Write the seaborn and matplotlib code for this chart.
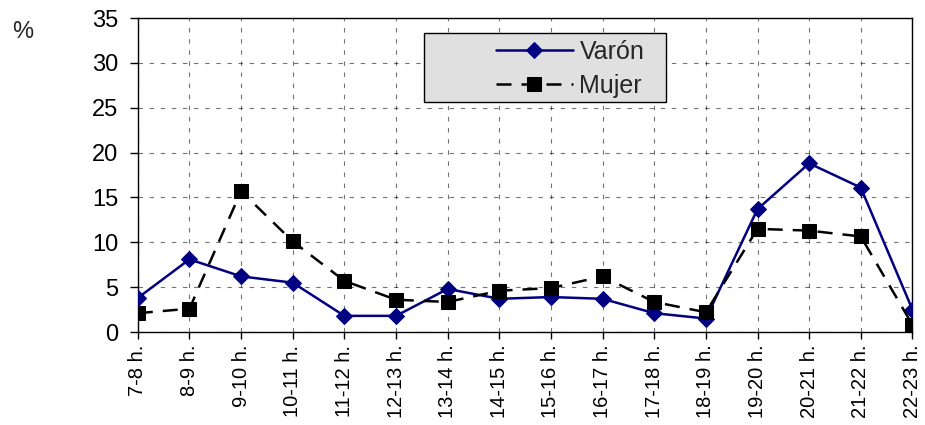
import seaborn as sns
import matplotlib.pyplot as plt
from matplotlib.patches import Rectangle

# Datos
horas = ['7-8 h.', '8-9 h.', '9-10 h.', '10-11 h.', '11-12 h.', '12-13 h.', '13-14 h.',
         '14-15 h.', '15-16 h.', '16-17 h.', '17-18 h.', '18-19 h.', '19-20 h.',
         '20-21 h.', '21-22 h.', '22-23 h.']
varon = [3.8, 8.1, 6.2, 5.5, 1.8, 1.8, 4.8, 3.7, 3.9, 3.7, 2.1, 1.5, 13.7, 18.8, 16.1, 2.5]
mujer = [2.1, 2.6, 15.7, 10.1, 5.7, 3.6, 3.35, 4.6, 4.9, 6.2, 3.35, 2.2, 11.5, 11.3, 10.65, 0.8]
y_ticks = list(range(0, 36, 5))

sns.set_style('white')
plt.rcParams['font.family'] = ['Liberation Sans', 'DejaVu Sans']

fig = plt.figure(figsize=(9.25, 4.25), dpi=100)
ax = fig.add_axes([0.149, 0.2188, 0.8374, 0.7388])

x = list(range(len(horas)))
sns.lineplot(x=x, y=varon, ax=ax, color='#000080', marker='D', markersize=8,
             markeredgecolor='#000080', linewidth=1.8, label='Varón', zorder=3)
sns.lineplot(x=x, y=mujer, ax=ax, color='black', marker='s', markersize=10,
             markeredgecolor='black', linewidth=1.8, linestyle=(0, (6, 4)), label='Mujer',
             zorder=3)

ax.set_xlim(0, len(horas) - 1)
ax.set_ylim(0, 35)
ax.set_yticks(y_ticks)
ax.set_xticks(x)
ax.set_xticklabels(horas, rotation=90)
ax.tick_params(axis='y', labelsize=17, direction='out', length=6, width=1, pad=8,
               colors='black', left=True)
ax.tick_params(axis='x', labelsize=14.5, direction='out', length=5, width=1, pad=4,
               colors='black', bottom=True)
ax.grid(True, color='black', linestyle=(0, (4, 6)), linewidth=0.8, alpha=0.55)
for s in ax.spines.values():
    s.set_color('black')
    s.set_linewidth(1)

fig.text(0.024, 0.925, '%', fontsize=17, va='center', ha='center')

# caja de la leyenda
ax.add_patch(Rectangle((0.37, 0.732), 0.312, 0.22, transform=ax.transAxes,
                       facecolor='#e0e0e0', edgecolor='black', linewidth=1, zorder=4))
leg = ax.legend(loc='center left', bbox_to_anchor=(0.462, 0.838), fontsize=18,
                handlelength=3.1, handletextpad=0.25, frameon=False, borderpad=0,
                borderaxespad=0, labelspacing=0.42)
leg.set_zorder(5)

fig.savefig('out.png', dpi=100)
